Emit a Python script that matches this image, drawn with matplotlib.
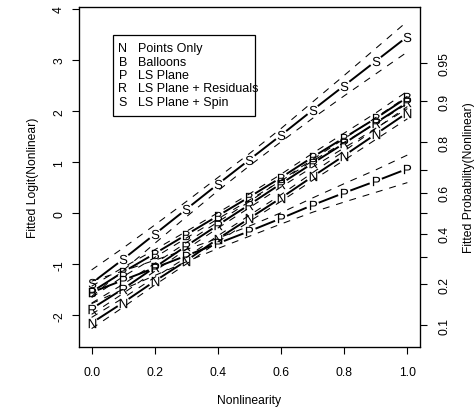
import numpy as np
import matplotlib
matplotlib.use("Agg")
import matplotlib.pyplot as plt
from matplotlib.patches import Rectangle

plt.rcParams['font.family'] = ['Liberation Sans', 'DejaVu Sans']
plt.rcParams['mathtext.fontset'] = 'custom'
plt.rcParams['mathtext.rm'] = 'Liberation Sans'
plt.rcParams['lines.scale_dashes'] = False

# nonlinearity levels
nonlin = [0.0, 0.1, 0.2, 0.3, 0.4, 0.5, 0.6, 0.7, 0.8, 0.9, 1.0]

# fitted logits per display condition
fit_N = [-2.15, -1.75, -1.33, -0.93, -0.50, -0.10, 0.30, 0.72, 1.13, 1.55, 1.97]
fit_B = [-1.54, -1.15, -0.79, -0.42, -0.05, 0.32, 0.70, 1.10, 1.48, 1.86, 2.27]
fit_P = [-1.55, -1.31, -1.07, -0.83, -0.59, -0.35, -0.10, 0.16, 0.40, 0.63, 0.87]
fit_R = [-1.87, -1.48, -1.06, -0.64, -0.23, 0.17, 0.58, 0.98, 1.37, 1.77, 2.17]
fit_S = [-1.37, -0.90, -0.41, 0.08, 0.57, 1.05, 1.53, 2.02, 2.50, 2.98, 3.46]

# half widths of the dashed confidence bands
hw_N = [0.11, 0.09, 0.075, 0.065, 0.06, 0.06, 0.065, 0.075, 0.09, 0.105, 0.12]
hw_B = [0.11, 0.09, 0.075, 0.065, 0.06, 0.06, 0.065, 0.075, 0.09, 0.105, 0.12]
hw_P = [0.22, 0.18, 0.15, 0.12, 0.10, 0.10, 0.11, 0.14, 0.18, 0.22, 0.27]
hw_R = [0.11, 0.09, 0.075, 0.065, 0.06, 0.06, 0.065, 0.075, 0.09, 0.105, 0.12]
hw_S = [0.26, 0.22, 0.18, 0.15, 0.13, 0.12, 0.13, 0.16, 0.20, 0.25, 0.30]

codes = ['N', 'B', 'P', 'R', 'S']
names = ['Points Only', 'Balloons', 'LS Plane', 'LS Plane + Residuals', 'LS Plane + Spin']
fits = [fit_N, fit_B, fit_P, fit_R, fit_S]
hws = [hw_N, hw_B, hw_P, hw_R, hw_S]

x_ticks = [0.0, 0.2, 0.4, 0.6, 0.8, 1.0]
logit_ticks = [-2, -1, 0, 1, 2, 3, 4]
prob_ticks = [0.1, 0.2, 0.3, 0.4, 0.5, 0.6, 0.7, 0.8, 0.9, 0.95]
prob_labels = ['0.1', '0.2', '', '0.4', '', '0.6', '', '0.8', '0.9', '0.95']

FS = 8.7


def gapped_line(ax, xs, ys, gap_px, **kw):
    # R type="b": segments stop short of the point symbols
    pts = ax.transData.transform(np.column_stack([xs, ys]))
    inv = ax.transData.inverted()
    for p0, p1 in zip(pts[:-1], pts[1:]):
        d = p1 - p0
        L = np.hypot(*d)
        if L <= 2 * gap_px:
            continue
        u = d / L
        a = inv.transform(p0 + u * gap_px)
        b = inv.transform(p1 - u * gap_px)
        ax.plot([a[0], b[0]], [a[1], b[1]], **kw)


fig = plt.figure(figsize=(4.77, 4.10), dpi=100)
ax = fig.add_axes([0.1656, 0.1512, 0.7149, 0.8293])
ax.set_xlim(-0.04, 1.04)
ax.set_ylim(-2.62, 4.04)

x = np.array(nonlin)
for code, fit, hw in zip(codes, fits, hws):
    fit = np.array(fit)
    hw = np.array(hw)
    ax.plot(x, fit + hw, color='black', lw=0.75, linestyle=(0, (5, 5)))
    ax.plot(x, fit - hw, color='black', lw=0.75, linestyle=(0, (5, 5)))
    gapped_line(ax, x, fit, 6.5, color='black', lw=1.4, solid_capstyle='butt')
    ax.plot(x, fit, linestyle='none', marker=r'$\mathregular{%s}$' % code,
            ms=6.7, mew=0, color='black')

ax.set_xticks(x_ticks)
ax.set_xticklabels(['%.1f' % v for v in x_ticks], fontsize=FS)
ax.set_yticks(logit_ticks)
ax.set_yticklabels([str(v) for v in logit_ticks], fontsize=FS, rotation=90, va='center')
ax.tick_params(direction='out', length=5, width=0.8)
ax.tick_params(axis='x', pad=9)
ax.tick_params(axis='y', pad=5)
for sp in ax.spines.values():
    sp.set_linewidth(0.9)
ax.set_xlabel('Nonlinearity', fontsize=FS, labelpad=11)
ax.set_ylabel('Fitted Logit(Nonlinear)', fontsize=FS, labelpad=10)

ax2 = ax.twinx()
ax2.set_ylim(ax.get_ylim())
p = np.array(prob_ticks)
ax2.set_yticks(np.log(p / (1 - p)))
ax2.set_yticklabels(prob_labels, fontsize=FS, rotation=90, va='center')
ax2.tick_params(direction='out', length=5, width=0.8, pad=8)
ax2.set_ylabel('Fitted Probability(Nonlinear)', fontsize=FS, labelpad=9)

# legend box
ax.add_patch(Rectangle((0.0997, 0.679), 0.4165, 0.2386, transform=ax.transAxes,
                       fill=False, lw=0.9, color='black'))
top = 0.879
step = 0.0395
for i, (code, name) in enumerate(zip(codes, names)):
    yy = top - i * step
    ax.text(0.129, yy, code, transform=ax.transAxes, fontsize=9, ha='center', va='center')
    ax.text(0.173, yy, name, transform=ax.transAxes, fontsize=9, ha='left', va='center')

fig.savefig('out.png', dpi=100)
